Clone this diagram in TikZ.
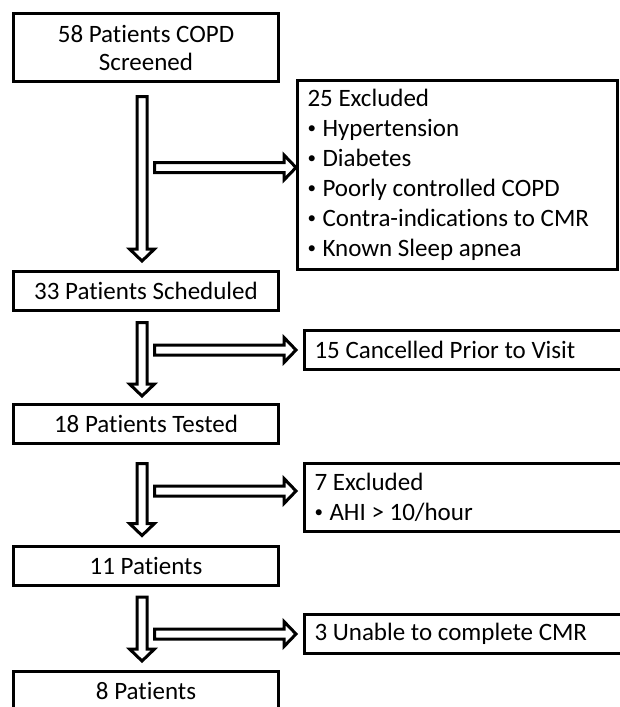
\documentclass[tikz,border=0pt]{standalone}
\usepackage{fontspec}
\setmainfont{Carlito}[Ligatures=NoCommon]
\usetikzlibrary{calc}

% small bullet as in the original list
\newcommand{\smallbul}{\makebox[15pt][l]{\raisebox{3pt}{\fontsize{17}{17}\selectfont•}}}

\tikzset{
  stage/.style={draw, line width=3pt, minimum width=265pt, minimum height=39pt,
    inner sep=0pt, align=center},
  note/.style={draw, line width=3pt, anchor=west, text width=300pt, inner xsep=10pt,
    inner ysep=0pt, minimum height=39pt, align=flush left},
  hollow/.style={draw, fill=white, line width=3pt, line join=miter},
  downarrow/.style={to path={let \p1=(\tikztostart), \p2=(\tikztotarget) in
    (\x1-5,\y1) -- (\x1+5,\y1) -- (\x1+5,\y2+12) -- (\x1+12.5,\y2+12) -- (\x1,\y2)
    -- (\x1-12.5,\y2+12) -- (\x1-5,\y2+12) -- cycle}},
  rightarrow/.style={to path={let \p1=(\tikztostart), \p2=(\tikztotarget) in
    (\x1,\y1+5) -- (\x2-12,\y1+5) -- (\x2-12,\y1+12.5) -- (\x2,\y1)
    -- (\x2-12,\y1-12.5) -- (\x2-12,\y1-5) -- (\x1,\y1-5) -- cycle}}
}

\begin{document}
\begin{tikzpicture}[x=1pt, y=1pt, font=\fontsize{25}{30}\selectfont]
    \useasboundingbox (0,0) rectangle (620,-707);
    % main stages
    \node[stage, minimum height=68pt, font=\fontsize{25}{28}\selectfont] (screened) at (146,-47.5) {58 Patients COPD\\Screened};
    \node[stage] (scheduled) at (146,-291) {33 Patients Scheduled};
    \node[stage] (tested) at (146,-424) {18 Patients Tested};
    \node[stage] (eleven) at (146,-565.5) {11 Patients};
    \node[stage] (eight) at (146,-691) {8 Patients};
    % drop-outs
    \node[note, minimum height=189pt] (excl1) at (296,-175) {25 Excluded\\\smallbul Hypertension\\\smallbul Diabetes\\\smallbul Poorly controlled COPD\\\smallbul Contra-indications to CMR\\\smallbul Known Sleep apnea};
    \node[note] (cancelled) at (303,-350) {15 Cancelled Prior to Visit};
    \node[note, minimum height=68pt] (excl2) at (303,-497.5) {7 Excluded\\\smallbul AHI > 10/hour};
    \node[note] (unable) at (303,-634) {3 Unable to complete CMR};
    % flow down
    \draw[hollow] ($(screened.south)+(-4,-13.5)$) to[downarrow] ($(scheduled.north)+(-4,9)$);
    \draw[hollow] ($(scheduled.south)+(-4,-10.5)$) to[downarrow] ($(tested.north)+(-4,7)$);
    \draw[hollow] ($(tested.south)+(-4,-18.5)$) to[downarrow] ($(eleven.north)+(-4,9)$);
    \draw[hollow] ($(eleven.south)+(-4,-10.5)$) to[downarrow] ($(eight.north)+(-4,9)$);
    % flow out
    \coordinate (b1) at (154.5,-167.5);
    \coordinate (b2) at (154.5,-350);
    \coordinate (b3) at (154.5,-491);
    \coordinate (b4) at (154.5,-634);
    \draw[hollow] (b1) to[rightarrow] (b1 -| excl1.west);
    \draw[hollow] (b2) to[rightarrow] ($(b2 -| cancelled.west)+(-7,0)$);
    \draw[hollow] (b3) to[rightarrow] ($(b3 -| excl2.west)+(-7,0)$);
    \draw[hollow] (b4) to[rightarrow] ($(b4 -| unable.west)+(-7,0)$);
\end{tikzpicture}
\end{document}
